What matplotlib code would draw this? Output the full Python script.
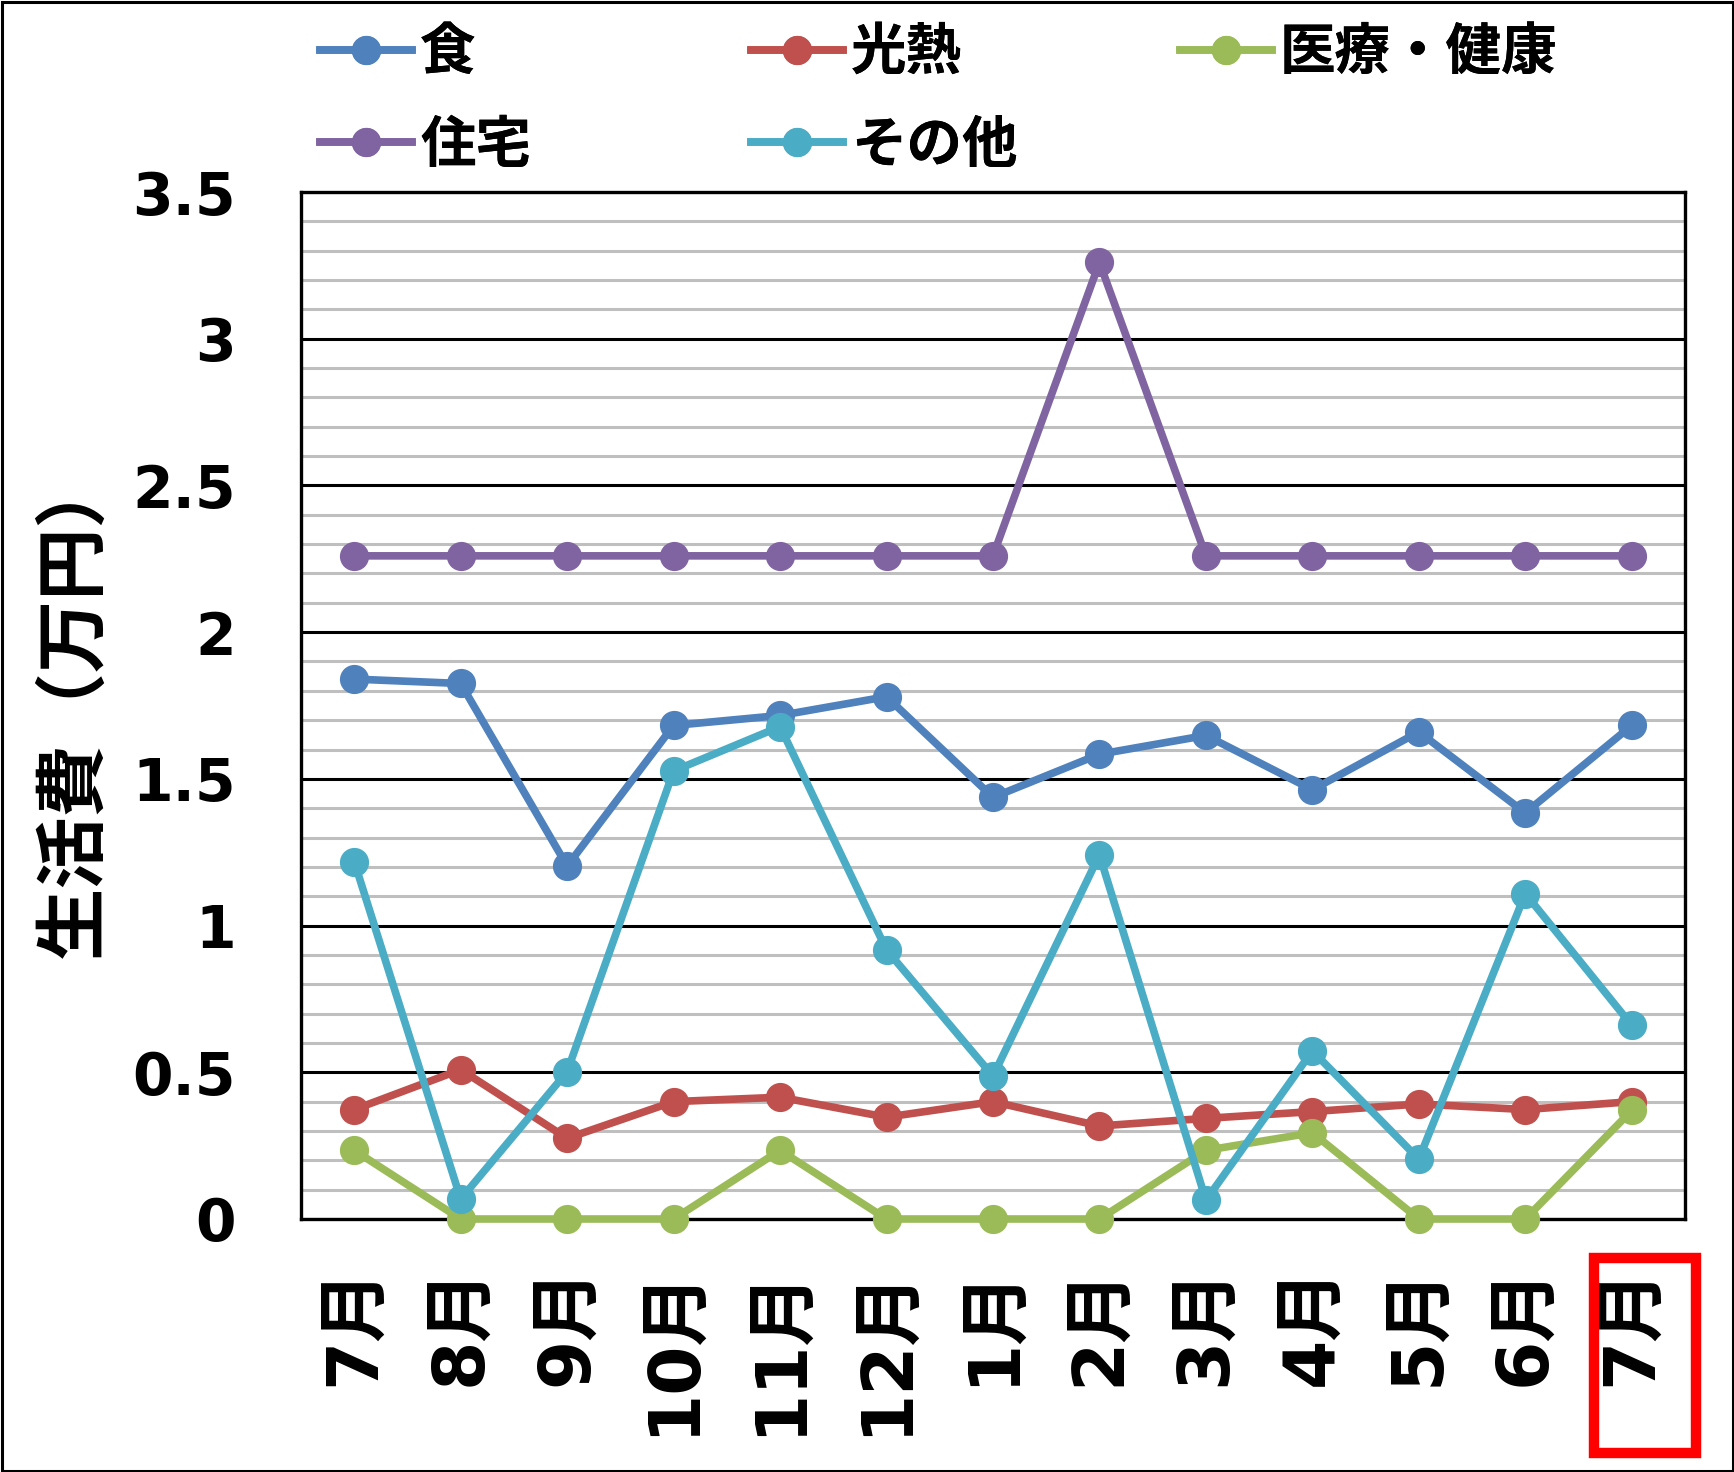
import matplotlib
matplotlib.use("Agg")
import matplotlib.pyplot as plt
from matplotlib.patches import Rectangle
from matplotlib.ticker import MultipleLocator

plt.rcParams['font.family'] = ['DejaVu Sans', 'Noto Sans CJK JP']
plt.rcParams['font.weight'] = 'bold'

months = ["7月", "8月", "9月", "10月", "11月", "12月", "1月", "2月", "3月", "4月", "5月", "6月", "7月"]
food = [1.84, 1.825, 1.203, 1.682, 1.716, 1.78, 1.437, 1.584, 1.648, 1.463, 1.66, 1.384, 1.682]
utilities = [0.373, 0.509, 0.275, 0.40, 0.415, 0.347, 0.40, 0.317, 0.343, 0.366, 0.392, 0.373, 0.40]
medical = [0.234, 0, 0, 0, 0.234, 0, 0, 0, 0.234, 0.294, 0, 0, 0.37]
housing = [2.26, 2.26, 2.26, 2.26, 2.26, 2.26, 2.26, 3.26, 2.26, 2.26, 2.26, 2.26, 2.26]
other = [1.218, 0.068, 0.502, 1.527, 1.678, 0.917, 0.487, 1.241, 0.064, 0.573, 0.204, 1.109, 0.66]

series_names = ["食", "光熱", "医療・健康", "住宅", "その他"]
series_vals = [food, utilities, medical, housing, other]
colors = ["#4f81bd", "#c0504d", "#9bbb59", "#8064a2", "#4bacc6"]

W, H = 1734, 1472
fig = plt.figure(figsize=(W / 100, H / 100), dpi=100)
ax = fig.add_axes([301 / W, 1 - 1219 / H, (1685 - 301) / W, (1219 - 192) / H])

x = list(range(len(months)))
handles = []
for name, vals, c in zip(series_names, series_vals, colors):
    h, = ax.plot(x, vals, color=c, lw=5.5, marker='o', ms=20, label=name,
                 solid_joinstyle='round', clip_on=False, zorder=3)
    handles.append(h)

ax.set_xlim(-0.5, len(months) - 0.5)
ax.set_ylim(0, 3.5)
ax.yaxis.set_major_locator(MultipleLocator(0.5))
ax.yaxis.set_minor_locator(MultipleLocator(0.1))
ax.grid(which='minor', axis='y', color='#bfbfbf', lw=2.2, zorder=0)
ax.grid(which='major', axis='y', color='black', lw=2.2, zorder=1)
ax.set_axisbelow(True)
for s in ax.spines.values():
    s.set_linewidth(2.4)
    s.set_color('black')

ax.set_yticks([0, 0.5, 1, 1.5, 2, 2.5, 3, 3.5])
ax.set_yticklabels(["0", "0.5", "1", "1.5", "2", "2.5", "3", "3.5"])
ax.tick_params(axis='y', which='both', length=0, pad=47, labelsize=42)
ax.set_xticks(x)
ax.set_xticklabels(months, rotation=90)
ax.tick_params(axis='x', length=0, pad=34, labelsize=51)
for t in ax.get_xticklabels() + ax.get_yticklabels():
    t.set_fontweight('bold')

fig.text(76 / W, 1 - 705 / H, "生活費（万円）", rotation=90, ha='center', va='center',
         fontsize=52, fontweight='bold')

# Legend, three columns laid out row by row
col_x = [320, 751, 1180]
col_items = [[0, 3], [1, 4], [2]]
for cx, items in zip(col_x, col_items):
    leg = fig.legend([handles[i] for i in items], [series_names[i] for i in items],
                     loc='upper left', bbox_to_anchor=(cx / W, 1 - 27 / H),
                     frameon=False, handlelength=1.65, handletextpad=0.15,
                     labelspacing=0.7, borderpad=0, borderaxespad=0,
                     prop={'weight': 'bold', 'size': 40})
    fig.add_artist(leg)

# Highlight box around last month label
fig.add_artist(Rectangle((1594 / W, 19 / H), (1696 - 1594) / W, (214 - 19) / H,
                         transform=fig.transFigure, fill=False, edgecolor='#ff0000', lw=7.5))
# Outer frame
fig.add_artist(Rectangle((1.5 / W, 1.5 / H), (W - 3) / W, (H - 3) / H,
                         transform=fig.transFigure, fill=False, edgecolor='black', lw=2.2))

fig.savefig("out.png", dpi=100)
